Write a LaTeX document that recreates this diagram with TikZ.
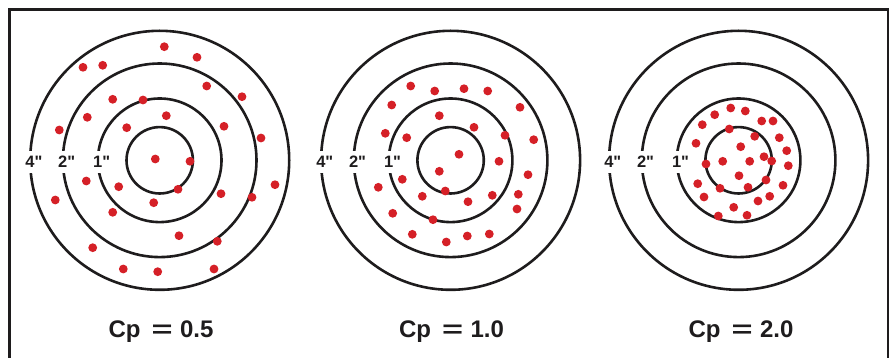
\documentclass[tikz,border=0pt]{standalone}
\usepackage{fontspec}
\setmainfont{Liberation Sans}[Ligatures=TeXOff]
\usepackage{graphicx}
\definecolor{dotred}{RGB}{213,32,39}
\definecolor{ink}{RGB}{30,28,29}
\begin{document}
\begin{tikzpicture}[x=1pt,y=-1pt,
  ring/.style={draw=ink,line width=2.6pt},
  shot/.style={fill=dotred},
  ringlabel/.style={fill=white,inner xsep=1pt,inner ysep=5pt,anchor=base west,
    font=\fontsize{16.5}{17}\selectfont\bfseries,text=ink},
  caption/.style={anchor=base,inner sep=0pt,
    font=\fontsize{24}{25}\selectfont\bfseries,text=ink},
  frame/.style={draw=ink,line width=2.5pt}]
\useasboundingbox (0,0) rectangle (896,358);
\draw[frame] (9.3,358) -- (9.3,9.3) -- (888,9.3) -- (888,358);
% targets
\foreach \cx/\nm in {159.7/a,450.6/b,738.6/c}{
  \coordinate (\nm) at (\cx,160.3);
  \foreach \r in {129.5,96.8,61.8,33.2}
    \draw[ring] (\nm) circle[radius=\r pt];
  \node[ringlabel] (\nm4) at (\cx-129.5-6,167.7) {4"};
  \node[ringlabel] (\nm2) at (\cx-96.8-6,167.7) {2"};
  \node[ringlabel] (\nm1) at (\cx-61.8-6,167.7) {1"};
}
% shots, Cp = 0.5
\foreach \x/\y in {164.3/46.7,197/57.3,83/67.3,102.7/65.3,206.7/86,242/96.7,
  112.7/99.3,143/100,166.3/115.7,87.3/117.3,59.3/130,126.7/127.7,224/126.3,
  261/138,155.3/159,190/161.3,86.3/181,118.7/186.7,178/189.3,221/193.7,
  275/184.7,252/197.3,55.3/200,153.7/202.7,112.7/212.3,179/235.7,217.3/241.3,
  92.7/247.7,123.3/269,157.7/271.7,214/269}
  \fill[shot] (\x,\y) circle[radius=4.4pt];
% shots, Cp = 1.0
\foreach \x/\y in {410.7/86,434.7/91,464/88.7,487.7/91,391.7/105,520/107.3,
  439.3/115.7,474/127.3,385.3/133.3,406.7/137.7,505/135.3,533.7/139.7,
  459/154.3,499/161.3,439.3/171.3,528/174.7,402.3/179.3,378.3/187.3,
  445.3/191,422.3/196.3,492.3/195.3,518.3/194.3,468/201.7,517/209,
  392.7/213.3,433/219.7,412.3/234.3,446.3/242,467.3/236,489.3/234}
  \fill[shot] (\x,\y) circle[radius=4.4pt];
% shots, Cp = 2.0
\foreach \x/\y in {730.7/108,745.3/111,714.7/114.7,761.7/121,773/121,
  702.3/124.7,729.3/129,754.7/136.3,779.3/137.7,696/143.3,740.7/146.7,
  786.7/150.7,764/156.7,722.7/161.3,749.7/161.3,771.7/161,706/164,
  788.3/165.7,739/175.7,766/180,697.7/183.7,783/185.3,720/188.3,748/187.3,
  704/197,769.7/196.3,758/201,733.7/207.3,718.3/216,747/215.3}
  \fill[shot] (\x,\y) circle[radius=4.4pt];
% captions
\node[caption] (capa) at (161,337.7) {Cp\hspace{11pt}\scalebox{1.5}[1]{=}\hspace{7.5pt}0.5};
\node[caption] (capb) at (451.5,337.7) {Cp\hspace{11pt}\scalebox{1.5}[1]{=}\hspace{7.5pt}1.0};
\node[caption] (capc) at (741,337.7) {Cp\hspace{11pt}\scalebox{1.5}[1]{=}\hspace{7.5pt}2.0};
\end{tikzpicture}
\end{document}
